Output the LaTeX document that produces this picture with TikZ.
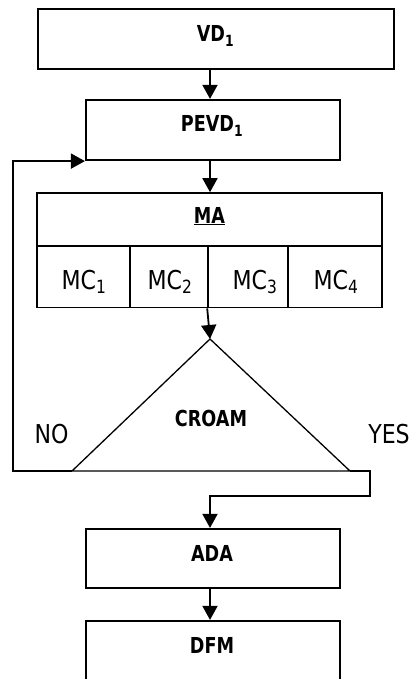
\documentclass[tikz,border=0pt]{standalone}
\usepackage{fontspec}
\setmainfont{DejaVu Sans}[FakeStretch=0.85]
\newfontfamily\boldfnt{DejaVu Sans}[FakeStretch=0.8]
\usetikzlibrary{arrows.meta}
\begin{document}
\begin{tikzpicture}[x=1pt,y=-1pt,
  box/.style={draw, line width=2.2pt, minimum width=254pt, minimum height=60pt, inner sep=0pt},
  cell/.style={draw, line width=1.6pt, inner sep=0pt},
  tri/.style={line width=1.3pt, line join=miter},
  conn/.style={line width=1.8pt},
  arr/.style={conn, -{Triangle[length=14pt,width=15pt]}},
  blbl/.style={font=\boldfnt\bfseries\fontsize{22}{26}\selectfont, inner sep=0pt, anchor=base},
  rlbl/.style={font=\fontsize{26}{30}\selectfont, inner sep=0pt, anchor=base}
]
\useasboundingbox (0,0) rectangle (412,679);
\clip (0,0) rectangle (412,679);

% boxes
\node[box, minimum width=356pt] (vd) at (216,39) {};
\node[box] (pevd) at (213,130) {};
\node[box, minimum height=59pt] (ada) at (213,558.5) {};
\node[box, minimum height=61pt] (dfm) at (213,651.5) {};

% MA table
\node[cell, minimum width=345pt, minimum height=53pt] (matop) at (209.5,219.5) {};
\node[cell, minimum width=93pt, minimum height=61.5pt] (mc1) at (83.5,276.75) {};
\node[cell, minimum width=78pt, minimum height=61.5pt] (mc2) at (169,276.75) {};
\node[cell, minimum width=80pt, minimum height=61.5pt] (mc3) at (248,276.75) {};
\node[cell, minimum width=94pt, minimum height=61.5pt] (mc4) at (335,276.75) {};

% triangle
\coordinate (apex) at (210,339);
\coordinate (bl) at (72,471);
\coordinate (br) at (350,471);
\draw[tri] (apex) -- (bl) -- (br) -- cycle;

% texts
\node[blbl] (tvd) at (215.5,42) {VD\textsubscript{1}};
\node[blbl] (tpevd) at (212,132) {PEVD\textsubscript{1}};
\node[blbl] (tma) at (209.5,223) {\underline{MA}};
\node[rlbl] (tmc1) at (84,289) {MC\textsubscript{1}};
\node[rlbl] (tmc2) at (170,289) {MC\textsubscript{2}};
\node[rlbl] (tmc3) at (255,289) {MC\textsubscript{3}};
\node[rlbl] (tmc4) at (336,289) {MC\textsubscript{4}};
\node[blbl] (tcroam) at (211,426) {CROAM};
\node[rlbl] (tno) at (51.5,443) {NO};
\node[rlbl] (tyes) at (389,443) {YES};
\node[blbl] (tada) at (212,561) {ADA};
\node[blbl] (tdfm) at (212,653) {DFM};

% connectors
\coordinate (nl) at (13,471);
\coordinate (yr) at (370,471);
\coordinate (yd) at (370,496);
\draw[arr] (vd.south -| apex) -- (pevd.north -| apex);
\draw[arr] (pevd.south -| apex) -- (matop.north -| apex);
\draw[arr] (mc3.south west) -- (apex);
\draw[arr] (bl) -- (nl) |- (pevd.south west);
\draw[arr] (br) -- (yr) -- (yd) -| (ada.north -| apex);
\draw[arr] (ada.south -| apex) -- (dfm.north -| apex);
\end{tikzpicture}
\end{document}
